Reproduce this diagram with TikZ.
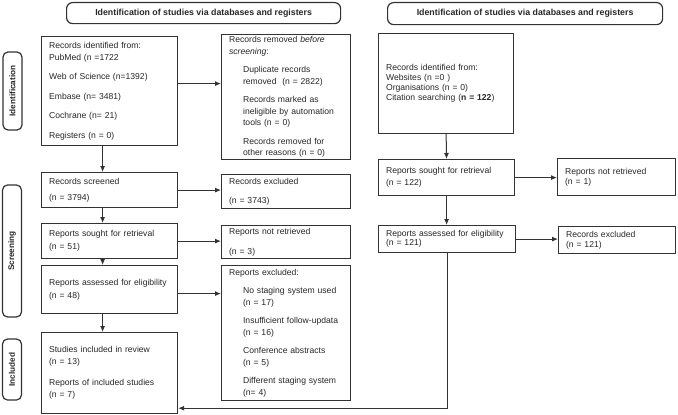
\documentclass[tikz,border=0pt]{standalone}
\usepackage{fontspec}
\setmainfont{Liberation Sans}
\usetikzlibrary{arrows.meta}
\newcommand{\indnt}{\hspace*{14pt}}

\begin{document}
\begin{tikzpicture}[x=1pt, y=-1pt, >={Latex[length=6pt,width=5pt]},
		main/.style = {draw=black!80, line width=1.2pt, anchor=north west, align=left, inner xsep=7.5pt, inner ysep=1pt, text=black!85, font=\fontsize{8.6}{11.5}\selectfont},
		head/.style = {draw=black!80, line width=1.2pt, rounded corners=6pt, anchor=north west, text=black!85, font=\fontsize{8.8}{10}\selectfont\bfseries},
		phase/.style = {draw=black!80, line width=1.2pt, rounded corners=5pt, rotate=90, minimum height=19, text=black!85, font=\fontsize{8.2}{10}\selectfont\bfseries},
		flow/.style = {->, draw=black!80, line width=1pt}]
	\useasboundingbox (0,0) rectangle (678,415);
	\node[head, minimum width=274, minimum height=21] (h1) at (66,2) {Identification of studies via databases and registers};
	\node[head, minimum width=275, minimum height=22] (h2) at (387,2) {Identification of studies via databases and registers};
	\node[phase, minimum width=78] (ph1) at (12.5,91) {Identification};
	\node[phase, minimum width=132] (ph2) at (12,251) {Screening};
	\node[phase, minimum width=61] (ph3) at (12,369.5) {Included};
	\node[main, minimum width=136, minimum height=109, text width=121] (id1) at (41,36) {Records identified from:\\ PubMed (n =1722\\[8pt] Web of Science (n=1392)\\[8pt] Embase (n= 3481)\\[8pt] Cochrane (n= 21)\\[8pt] Registers (n = 0)};
	\node[main, minimum width=129, minimum height=125, text width=114] (rm) at (221,34) {Records removed \textit{before}\\ \textit{screening}:\\[7pt] \indnt Duplicate records\\ \indnt removed\ \ (n = 2822)\\[7pt] \indnt Records marked as\\ \indnt ineligible by automation\\ \indnt tools (n = 0)\\[7pt] \indnt Records removed for\\ \indnt other reasons (n = 0)};
	\node[main, minimum width=135, minimum height=100, text width=120] (id2) at (378,33) {Records identified from:\\[-1.5pt] Websites (n =0 )\\[-1.5pt] Organisations (n = 0)\\[-1.5pt] Citation searching (\textbf{n = 122})};
	\node[main, minimum width=136, minimum height=35, text width=121] (sc) at (41,172) {Records screened\\[4.5pt] (n = 3794)};
	\node[main, minimum width=129, minimum height=34, text width=114] (ex1) at (221,174) {Records excluded\\[7.5pt] (n = 3743)};
	\node[main, minimum width=136, minimum height=35, text width=121] (so1) at (41,223) {Reports sought for retrieval\\[1.5pt] (n = 51)};
	\node[main, minimum width=129, minimum height=33, text width=114] (nr1) at (221,225) {Reports not retrieved\\[8.5pt] (n = 3)};
	\node[main, minimum width=136, minimum height=48, text width=121] (as1) at (41,265) {Reports assessed for eligibility\\[1.5pt] (n = 48)};
	\node[main, minimum width=129, minimum height=135, text width=114] (ex2) at (221,265) {Reports excluded:\\[7pt] \indnt No staging system used\\ \indnt (n = 17)\\[7pt] \indnt Insufficient follow-updata\\ \indnt (n = 16)\\[7pt] \indnt Conference abstracts\\ \indnt (n = 5)\\[7pt] \indnt Different staging system\\ \indnt (n= 4)};
	\node[main, minimum width=136, minimum height=81, text width=121] (inc) at (41,332) {Studies included in review\\ (n = 13)\\[9.5pt] Reports of included studies\\[1pt] (n = 7)};
	\node[main, minimum width=136, minimum height=36, text width=121] (so2) at (378,159) {Reports sought for retrieval\\[0.5pt] (n = 122)};
	\node[main, minimum width=118, minimum height=37, text width=103] (nr2) at (557,158) {Reports not retrieved\\[-1.5pt] (n = 1)};
	\node[main, minimum width=137, minimum height=27, text width=122] (as2) at (378,225) {Reports assessed for eligibility\\[-2.5pt] (n = 121)};
	\node[main, minimum width=117, minimum height=27, text width=102] (ex3) at (558,226) {Records excluded\\[-1.5pt] (n = 121)};
	\draw[flow] ([yshift=7.5pt]id1.east) -- ([yshift=7.5pt]id1.east -| rm.west);
	\draw[flow] ([xshift=-7pt]id1.south) -- ([xshift=-7pt]sc.north);
	\draw[flow] (sc.east) -- (sc.east -| ex1.west);
	\draw[flow] ([xshift=-7pt]sc.south) -- ([xshift=-7pt]so1.north);
	\draw[flow] (so1.east) -- (so1.east -| nr1.west);
	\draw[flow] ([xshift=-7pt]so1.south) -- ([xshift=-7pt]as1.north);
	\draw[flow] ([yshift=-4pt]as1.east) -- ([yshift=-4pt]as1.east -| ex2.west);
	\draw[flow] ([xshift=-7pt]as1.south) -- ([xshift=-7pt]inc.north);
	\draw[flow] (id2.south) -- (so2.north);
	\draw[flow] (so2.east) -- (so2.east -| nr2.west);
	\draw[flow] (so2.south) -- (so2.south |- as2.north);
	\draw[flow] (as2.east) -- (as2.east -| ex3.west);
	\draw[flow] (as2.south) |- ([yshift=6pt]inc.south east);
\end{tikzpicture}
\end{document}
